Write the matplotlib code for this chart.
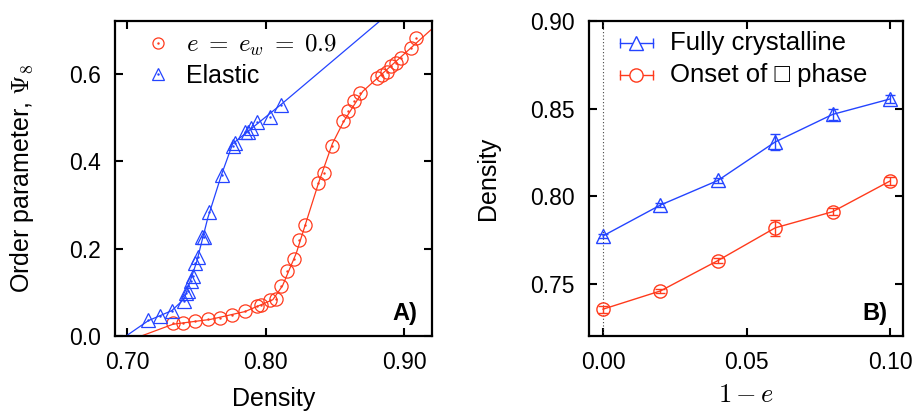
import numpy as np
import matplotlib
matplotlib.use("Agg")
import matplotlib.pyplot as plt
from matplotlib.lines import Line2D

plt.rcParams["font.family"] = ["Liberation Sans", "DejaVu Sans"]
plt.rcParams["mathtext.fontset"] = "cm"

RED = "#ff3a1c"
BLUE = "#2444ff"

# ── Panel A: order parameter vs density ──────────────────────────────────────
inel_rho = [0.7331, 0.7403, 0.7491, 0.7583, 0.7671, 0.7758, 0.7847, 0.7938,
            0.7967, 0.8031, 0.8074, 0.8106, 0.8151, 0.8206, 0.8242, 0.8283,
            0.8374, 0.8422, 0.8475, 0.8559, 0.8595, 0.8638, 0.8679, 0.8806,
            0.8842, 0.8873, 0.8906, 0.8942, 0.8978, 0.9045, 0.9081]
inel_psi = [0.029, 0.030, 0.034, 0.038, 0.042, 0.047, 0.057, 0.068,
            0.072, 0.083, 0.085, 0.114, 0.148, 0.176, 0.219, 0.253,
            0.350, 0.373, 0.434, 0.491, 0.514, 0.537, 0.556, 0.590,
            0.598, 0.605, 0.617, 0.624, 0.636, 0.659, 0.682]

elas_rho = [0.7146, 0.7235, 0.7320, 0.7410, 0.7423, 0.7434, 0.7458, 0.7475,
            0.7487, 0.7506, 0.7540, 0.7550, 0.7590, 0.7680, 0.7763, 0.7775,
            0.7847, 0.7870, 0.7894, 0.7937, 0.8027, 0.8110]
elas_psi = [0.036, 0.045, 0.057, 0.080, 0.099, 0.104, 0.125, 0.138,
            0.167, 0.180, 0.227, 0.227, 0.283, 0.369, 0.434, 0.442,
            0.468, 0.468, 0.476, 0.489, 0.502, 0.529]

# guide curves through the points
inel_fit_rho = [0.710, 0.733, 0.760, 0.785, 0.805, 0.812, 0.822, 0.838, 0.848,
                0.856, 0.870, 0.920]
inel_fit_psi = [0.000, 0.027, 0.038, 0.056, 0.083, 0.115, 0.190, 0.350, 0.440,
                0.490, 0.560, 0.703]
elas_fit_rho = [0.699, 0.715, 0.732, 0.741, 0.750, 0.758, 0.768, 0.776, 0.790,
                0.811, 0.882]
elas_fit_psi = [0.000, 0.035, 0.058, 0.085, 0.170, 0.270, 0.370, 0.440, 0.476,
                0.530, 0.720]

# ── Panel B: transition densities vs 1-e ─────────────────────────────────────
one_minus_e = [0.00, 0.02, 0.04, 0.06, 0.08, 0.10]
crys_rho = [0.7774, 0.7950, 0.8090, 0.8310, 0.8467, 0.8555]
crys_err = [0.0012, 0.0010, 0.0012, 0.0045, 0.0030, 0.0025]
onset_rho = [0.7356, 0.7460, 0.7633, 0.7820, 0.7912, 0.8087]
onset_err = [0.0020, 0.0012, 0.0015, 0.0045, 0.0020, 0.0025]

fig = plt.figure(figsize=(9.18, 4.12), dpi=100)
axA = fig.add_axes([0.1253, 0.1845, 0.3453, 0.7646])
axB = fig.add_axes([0.6416, 0.1845, 0.3420, 0.7646])

for ax in (axA, axB):
    ax.tick_params(direction="in", length=6, width=1.5, top=True, right=True,
                   labelsize=16.5, pad=10)
    ax.tick_params(axis="x", pad=11)
    for s in ax.spines.values():
        s.set_linewidth(1.6)

# ── A ──
axA.plot(elas_fit_rho, elas_fit_psi, color=BLUE, lw=0.9)
axA.plot(inel_fit_rho, inel_fit_psi, color=RED, lw=0.9)
axA.plot(inel_rho, inel_psi, "o", ms=9.5, mfc="none", mec=RED, mew=0.9)
axA.plot(inel_rho, inel_psi, ".", ms=1.5, color=RED)
axA.plot(elas_rho, elas_psi, "^", ms=9.5, mfc="none", mec=BLUE, mew=0.9)
axA.plot(elas_rho, elas_psi, ".", ms=1.5, color=BLUE)

h1 = (Line2D([], [], ls="none", marker="o", ms=8, mfc="none", mec=RED, mew=0.9),
      Line2D([], [], ls="none", marker=".", ms=1.5, color=RED))
h2 = (Line2D([], [], ls="none", marker="^", ms=8, mfc="none", mec=BLUE, mew=0.9),
      Line2D([], [], ls="none", marker=".", ms=1.5, color=BLUE))
axA.legend([h1, h2], [r"$e\;=\;e_w\;=\;0.9$", "Elastic"], loc="upper left",
           frameon=False, fontsize=18, handlelength=1.0, handletextpad=0.6,
           borderaxespad=0.0, labelspacing=0.25, bbox_to_anchor=(0.065, 0.995))

axA.set_xlim(0.691, 0.920)
axA.set_ylim(0.0, 0.721)
axA.set_xticks([0.70, 0.80, 0.90])
axA.set_xticklabels(["0.70", "0.80", "0.90"])
axA.set_yticks([0.0, 0.2, 0.4, 0.6])
axA.set_yticklabels(["0.0", "0.2", "0.4", "0.6"])
axA.set_xlabel("Density", fontsize=18, labelpad=9)
axA.set_ylabel(r"Order parameter, $\Psi_8$", fontsize=18, labelpad=24)
axA.text(0.953, 0.07, "A)", transform=axA.transAxes, fontsize=17,
         fontweight="bold", ha="right", va="center")

# ── B ──
axB.axvline(0.0, color="#444444", lw=0.8, ls=(0, (1, 2)))
axB.errorbar(one_minus_e, crys_rho, yerr=crys_err, color=BLUE, lw=1.0,
             marker="^", ms=9.5, mfc="none", mec=BLUE, mew=1.0,
             capsize=3.5, elinewidth=1.0, capthick=1.0)
axB.errorbar(one_minus_e, onset_rho, yerr=onset_err, color=RED, lw=1.0,
             marker="o", ms=9.5, mfc="none", mec=RED, mew=1.0,
             capsize=3.5, elinewidth=1.0, capthick=1.0)

# gnuplot-style legend keys: horizontal bar with end caps and a marker
for row, (col, mk, lab) in enumerate([(BLUE, "^", "Fully crystalline"),
                                      (RED, "o", "Onset of \u25a1 phase")]):
    yk = 0.930 - row * 0.101
    axB.plot([0.098, 0.203], [yk, yk], color=col, lw=1.0,
             transform=axB.transAxes, clip_on=False)
    axB.plot([0.098, 0.203], [yk, yk], ls="none", marker="|", ms=7,
             mew=1.0, color=col, transform=axB.transAxes)
    axB.plot([0.150], [yk], ls="none", marker=mk, ms=9.5, mfc="white",
             mec=col, mew=1.0, transform=axB.transAxes)
    axB.text(0.258, yk, lab, transform=axB.transAxes, fontsize=18.5,
             va="center", ha="left")

axB.set_xlim(-0.0049, 0.1045)
axB.set_ylim(0.7203, 0.90)
axB.set_xticks([0.0, 0.05, 0.10])
axB.set_xticklabels(["0.00", "0.05", "0.10"])
axB.set_yticks([0.75, 0.80, 0.85, 0.90])
axB.set_yticklabels(["0.75", "0.80", "0.85", "0.90"])
axB.set_xlabel(r"$1-e$", fontsize=19, labelpad=6)
axB.set_ylabel("Density", fontsize=18, labelpad=22)
axB.text(0.952, 0.07, "B)", transform=axB.transAxes, fontsize=17,
         fontweight="bold", ha="right", va="center")

fig.savefig("out.png", dpi=100)
